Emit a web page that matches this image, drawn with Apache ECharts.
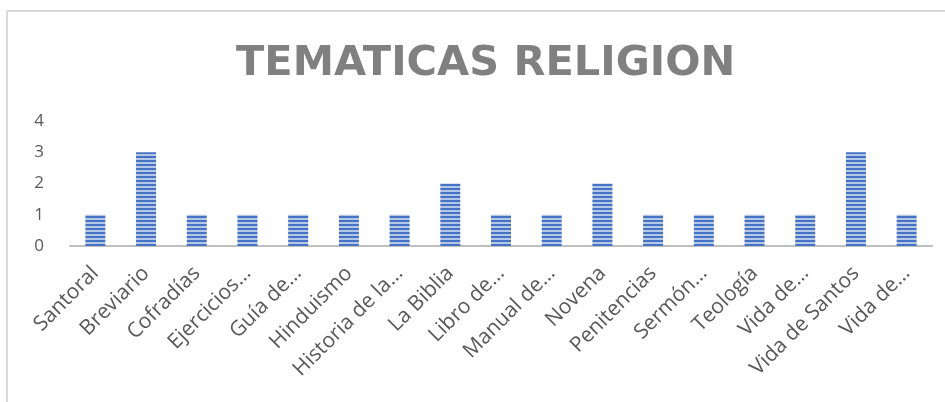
<!DOCTYPE html>
<html>
<head>
<meta charset="utf-8">
<script src="https://cdn.jsdelivr.net/npm/echarts@6/dist/echarts.min.js"></script>
<style>
  html, body { margin: 0; padding: 0; background: #fff; }
  #frame {
    position: absolute; left: 6px; top: 10px; width: 1000px; height: 500px;
    border-left: 2px solid #d9d9d9; border-top: 2px solid #d9d9d9;
  }
  #chart { position: absolute; left: 0; top: 0; width: 945px; height: 402px; }
</style>
</head>
<body>
<div id="frame"></div>
<div id="chart"></div>
<script>
const categories = ['Santoral', 'Breviario', 'Cofradías', 'Ejercicios…', 'Guía de…', 'Hinduismo',
  'Historia de la…', 'La Biblia', 'Libro de…', 'Manual de…', 'Novena', 'Penitencias',
  'Sermón…', 'Teología', 'Vida de…', 'Vida de Santos', 'Vida de…']
const counts = [1, 3, 1, 1, 1, 1, 1, 2, 1, 1, 2, 1, 1, 1, 1, 3, 1]
const yTicks = { min: 0, max: 4, interval: 1 }

// striped fill like the Excel pattern
const stripe = document.createElement('canvas')
stripe.width = 4
stripe.height = 4
const ctx = stripe.getContext('2d')
ctx.fillStyle = '#b4c7e7'
ctx.fillRect(0, 0, 4, 4)
ctx.fillStyle = '#4472c4'
ctx.fillRect(0, 0, 4, 2)

const chart = echarts.init(document.getElementById('chart'))
chart.setOption({
  animation: false,
  title: {
    text: 'TEMATICAS RELIGION',
    left: 231,
    top: 38,
    textStyle: {
      fontFamily: 'DejaVu Sans',
      fontWeight: 'bold',
      fontSize: 41.5,
      color: '#808080'
    }
  },
  grid: { left: 70, right: 13, top: 121, bottom: 156 },
  xAxis: {
    type: 'category',
    data: categories,
    axisLine: { lineStyle: { color: '#bfbfbf', width: 2 } },
    axisTick: { show: false },
    axisLabel: {
      rotate: 45,
      interval: 0,
      margin: 24,
      fontFamily: 'Open Sans',
      fontSize: 21,
      color: '#595959'
    }
  },
  yAxis: {
    type: 'value',
    min: yTicks.min,
    max: yTicks.max,
    interval: yTicks.interval,
    splitLine: { show: false },
    axisLine: { show: false },
    axisTick: { show: false },
    axisLabel: {
      margin: 26,
      fontFamily: 'Open Sans',
      fontSize: 17,
      color: '#595959'
    }
  },
  series: [
    {
      type: 'bar',
      data: counts,
      barWidth: 20,
      itemStyle: {
        color: { image: stripe, repeat: 'repeat' }
      }
    }
  ]
})
</script>
</body>
</html>
